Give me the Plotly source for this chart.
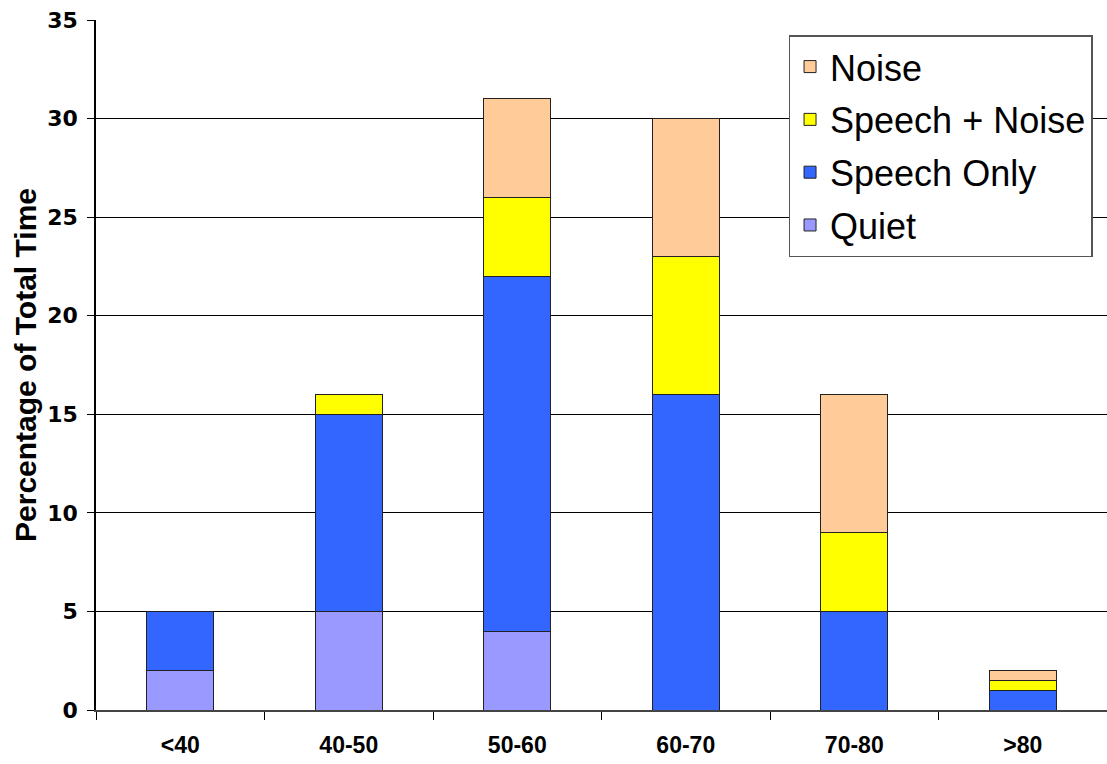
import plotly.graph_objects as go

categories = ["<40", "40-50", "50-60", "60-70", "70-80", ">80"]
quiet = [2, 5, 4, 0, 0, 0]
speech_only = [3, 10, 18, 16, 5, 1]
speech_noise = [0, 1, 4, 7, 4, 0.5]
noise = [0, 0, 5, 7, 7, 0.5]

series = [
    ("Quiet", quiet, "#9999FF", 4),
    ("Speech Only", speech_only, "#3366FF", 3),
    ("Speech + Noise", speech_noise, "#FFFF00", 2),
    ("Noise", noise, "#FFCC99", 1),
]

fig = go.Figure()
for name, vals, color, rank in series:
    fig.add_trace(go.Bar(
        x=categories, y=vals, name=name, legendgroup=name, legendrank=rank,
        marker=dict(color=color, line=dict(color="#222222", width=1)),
    ))

fig.update_layout(
    barmode="stack",
    bargap=0.6,
    width=1107, height=764,
    margin=dict(l=96, r=0, t=20, b=54),
    plot_bgcolor="white", paper_bgcolor="white",
    font=dict(family="Liberation Sans, Arial, sans-serif", color="black"),
    showlegend=True,
    legend=dict(
        x=0.685, y=0.978, xanchor="left", yanchor="top",
        traceorder="grouped", tracegroupgap=3,
        font=dict(size=36, family="Liberation Sans, Arial, sans-serif"),
        bgcolor="white", bordercolor="#555555", borderwidth=1.5,
    ),
    xaxis=dict(
        automargin=False,
        tickfont=dict(size=23, family="Liberation Sans, Arial, sans-serif", weight="bold"),
        ticks="outside", tickson="boundaries", ticklen=8, tickcolor="black",
        showline=True, linecolor="#444444", linewidth=1.5,
        showgrid=False, ticklabelstandoff=14,
    ),
    yaxis=dict(
        automargin=False,
        range=[0, 35], dtick=5,
        tickfont=dict(size=22, family="DejaVu Sans, sans-serif", weight="bold"),
        ticks="outside", ticklen=7, tickcolor="black", ticklabelstandoff=5,
        showline=True, linecolor="black", linewidth=1.5,
        showgrid=True, gridcolor="black", gridwidth=1,
        zeroline=False,
        title=dict(text="Percentage of Total Time", font=dict(size=30, weight="bold"), standoff=2),
    ),
)

fig.write_html("out.html", config={"displayModeBar": False},
               post_script="document.body.style.margin='0';document.body.style.padding='0';")
